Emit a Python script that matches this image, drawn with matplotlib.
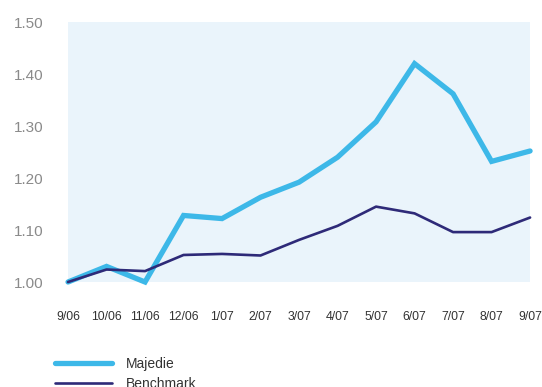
import matplotlib.pyplot as plt

plt.rcParams["font.family"] = ["Liberation Sans", "DejaVu Sans"]

months = ["9/06", "10/06", "11/06", "12/06", "1/07", "2/07", "3/07",
          "4/07", "5/07", "6/07", "7/07", "8/07", "9/07"]
majedie = [1.00, 1.030, 1.000, 1.128, 1.122, 1.163, 1.192,
           1.240, 1.308, 1.420, 1.362, 1.232, 1.252]
benchmark = [1.00, 1.024, 1.021, 1.052, 1.054, 1.051, 1.081,
             1.108, 1.145, 1.132, 1.096, 1.096, 1.124]
yticks = [1.00, 1.10, 1.20, 1.30, 1.40, 1.50]

fig = plt.figure(figsize=(5.42, 3.87), dpi=100)
ax = fig.add_axes([0.1255, 0.2713, 0.8525, 0.6717])
ax.set_facecolor("#eaf4fb")

x = range(len(months))
l1, = ax.plot(x, majedie, color="#3db8e8", lw=3.8, solid_capstyle="round",
              solid_joinstyle="miter", clip_on=False, zorder=3, label="Majedie")
l2, = ax.plot(x, benchmark, color="#2e2a78", lw=1.9, solid_capstyle="round",
              clip_on=False, zorder=4, label="Benchmark")

ax.set_xlim(0, len(months) - 1)
ax.set_ylim(1.0, 1.5)
ax.set_yticks(yticks)
ax.set_yticklabels([f"{v:.2f}" for v in yticks], color="#8a8a8a", fontsize=11)
ax.set_xticks(list(x))
ax.set_xticklabels(months, color="#333333", fontsize=8.8)
ax.tick_params(axis="y", length=0, pad=18)
ax.tick_params(axis="x", length=0, pad=21)
for s in ax.spines.values():
    s.set_visible(False)

fig.legend(handles=[l1, l2], loc="upper left", bbox_to_anchor=(0.101, 0.077),
           frameon=False, fontsize=10, handlelength=4.1, handletextpad=1.0,
           labelspacing=0.4, borderaxespad=0, borderpad=0, labelcolor="#333333")

fig.savefig("out.png", dpi=100)
